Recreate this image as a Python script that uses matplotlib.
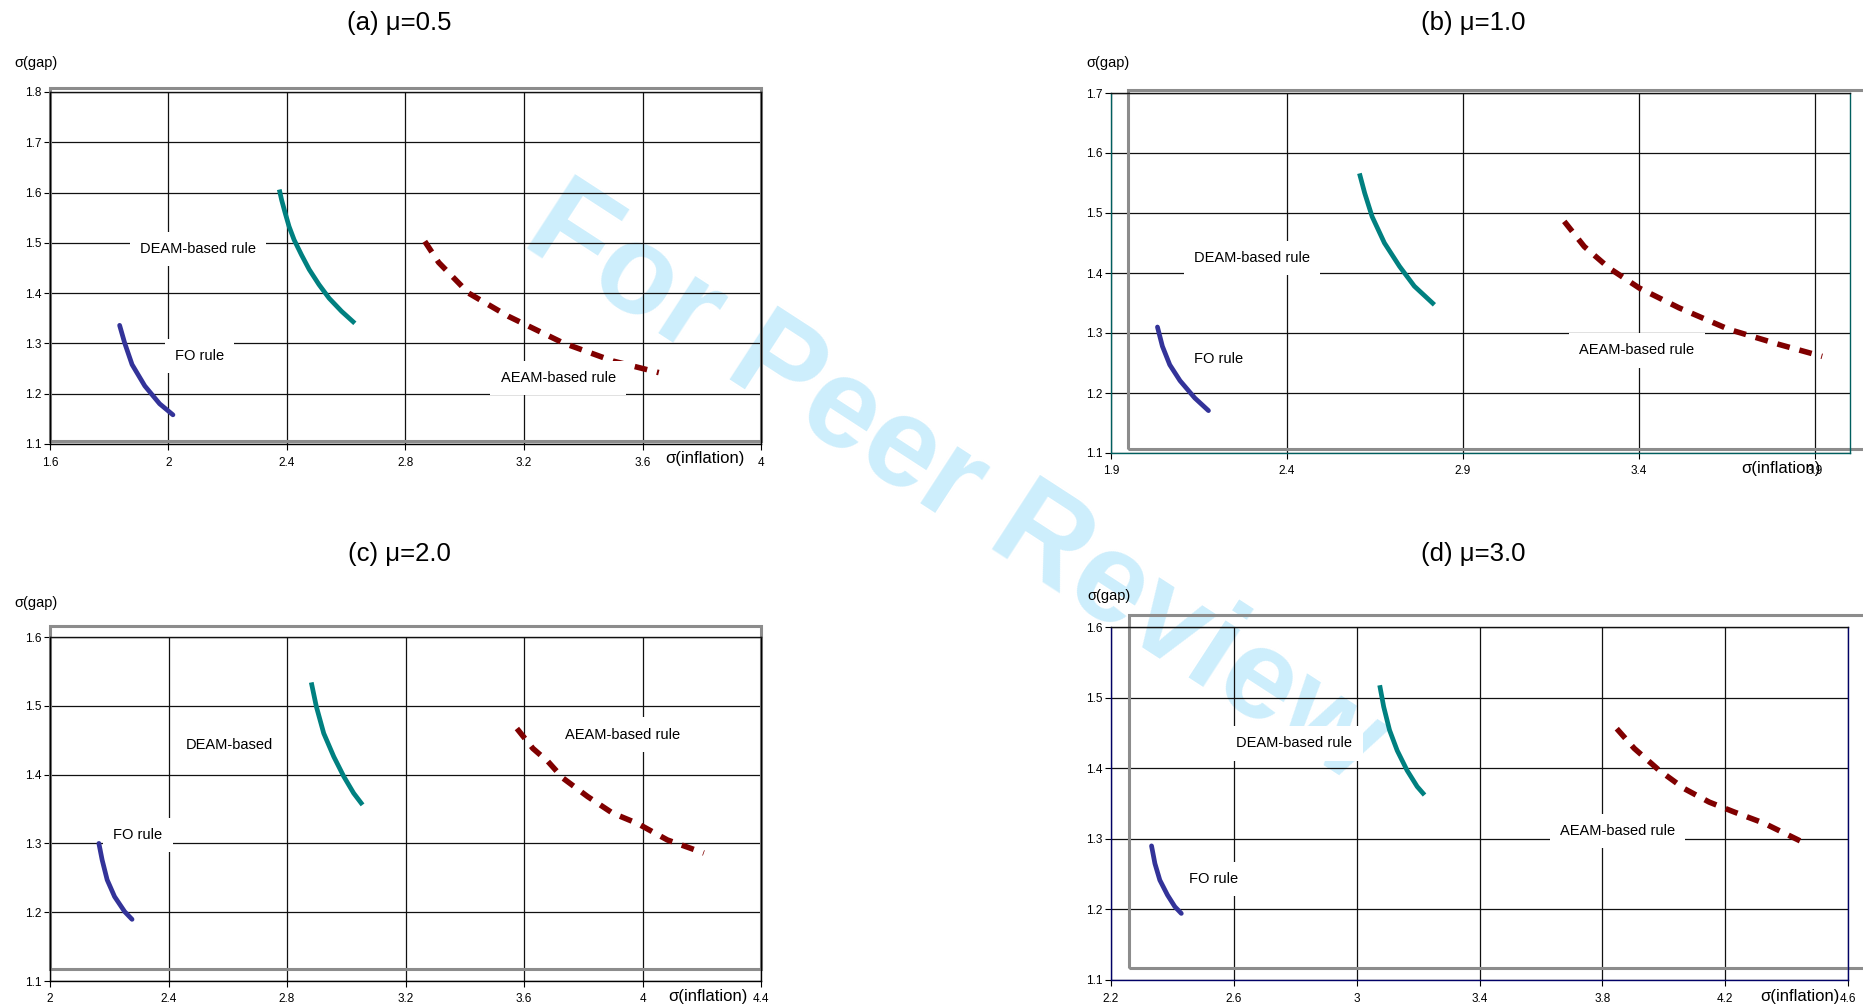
import matplotlib.pyplot as plt
from matplotlib.patches import Rectangle

W, H = 1863, 1007
plt.rcParams['font.family'] = ['Liberation Sans', 'DejaVu Sans']

# ---- data ----
# (a) mu = 0.5
fo_a_x = [1.835, 1.852, 1.877, 1.920, 1.970, 2.015]
fo_a_y = [1.336, 1.301, 1.258, 1.2155, 1.180, 1.158]
deam_a_x = [2.374, 2.382, 2.394, 2.407, 2.424, 2.449, 2.475, 2.508, 2.542, 2.584, 2.629]
deam_a_y = [1.606, 1.585, 1.559, 1.5325, 1.506, 1.476, 1.447, 1.417, 1.390, 1.364, 1.340]
aeam_a_x = [2.865, 2.912, 3.013, 3.147, 3.332, 3.500, 3.655]
aeam_a_y = [1.503, 1.461, 1.400, 1.354, 1.301, 1.265, 1.242]

# (b) mu = 1.0
fo_b_x = [2.032, 2.046, 2.067, 2.096, 2.138, 2.177]
fo_b_y = [1.310, 1.278, 1.247, 1.2206, 1.1917, 1.1706]
deam_b_x = [2.606, 2.621, 2.642, 2.677, 2.720, 2.762, 2.819]
deam_b_y = [1.566, 1.533, 1.494, 1.450, 1.411, 1.378, 1.347]
aeam_b_x = [3.188, 3.245, 3.316, 3.401, 3.514, 3.656, 3.798, 3.921]
aeam_b_y = [1.486, 1.444, 1.408, 1.375, 1.342, 1.306, 1.281, 1.261]

# (c) mu = 2.0
fo_c_x = [2.165, 2.176, 2.193, 2.218, 2.252, 2.277]
fo_c_y = [1.300, 1.276, 1.247, 1.2226, 1.2008, 1.1896]
deam_c_x = [2.882, 2.899, 2.924, 2.958, 2.992, 3.025, 3.055]
deam_c_y = [1.534, 1.499, 1.460, 1.426, 1.397, 1.373, 1.356]
aeam_c_x = [3.576, 3.630, 3.681, 3.731, 3.815, 3.899, 3.983, 4.084, 4.207]
aeam_c_y = [1.467, 1.438, 1.419, 1.395, 1.368, 1.344, 1.329, 1.305, 1.286]

# (d) mu = 3.0
fo_d_x = [2.332, 2.343, 2.359, 2.384, 2.408, 2.429]
fo_d_y = [1.290, 1.265, 1.2415, 1.2203, 1.2038, 1.1943]
deam_d_x = [3.075, 3.088, 3.107, 3.132, 3.164, 3.197, 3.221]
deam_d_y = [1.5175, 1.487, 1.454, 1.425, 1.397, 1.374, 1.362]
aeam_d_x = [3.847, 3.904, 3.985, 4.067, 4.148, 4.229, 4.327, 4.449]
aeam_d_y = [1.456, 1.428, 1.397, 1.371, 1.352, 1.338, 1.322, 1.296]

titles = ['(a) \u03bc=0.5', '(b) \u03bc=1.0', '(c) \u03bc=2.0', '(d) \u03bc=3.0']

xticks_a = [1.6, 2.0, 2.4, 2.8, 3.2, 3.6, 4.0]
xticks_b = [1.9, 2.4, 2.9, 3.4, 3.9]
xticks_c = [2.0, 2.4, 2.8, 3.2, 3.6, 4.0, 4.4]
xticks_d = [2.2, 2.6, 3.0, 3.4, 3.8, 4.2, 4.6]
yticks_a = [1.1, 1.2, 1.3, 1.4, 1.5, 1.6, 1.7, 1.8]
yticks_b = [1.1, 1.2, 1.3, 1.4, 1.5, 1.6, 1.7]
yticks_c = [1.1, 1.2, 1.3, 1.4, 1.5, 1.6]
yticks_d = [1.1, 1.2, 1.3, 1.4, 1.5, 1.6]

# label positions (x, y) in data units
labels_a = {'DEAM-based rule': (2.10, 1.488), 'FO rule': (2.105, 1.275), 'AEAM-based rule': (3.315, 1.231)}
labels_b = {'DEAM-based rule': (2.30, 1.425), 'FO rule': (2.205, 1.257), 'AEAM-based rule': (3.394, 1.271)}
labels_c = {'DEAM-based': (2.605, 1.443), 'FO rule': (2.297, 1.312), 'AEAM-based rule': (3.933, 1.458)}
labels_d = {'DEAM-based rule': (2.797, 1.435), 'FO rule': (2.533, 1.243), 'AEAM-based rule': (3.850, 1.311)}

FO_COL = '#333399'
DEAM_COL = '#008080'
AEAM_COL = '#800000'


def fmt(v):
    return '%g' % round(v, 2)


def px_text(fig, x, y, s, **kw):
    fig.text(x / W, 1 - y / H, s, **kw)


fig = plt.figure(figsize=(W / 100, H / 100), dpi=100)

panels = [
    # box in pixels (left, top, right, bottom), gray frame in data units, spine colour
    dict(box=(50, 92, 761, 444), xlim=(1.6, 4.0), xt=xticks_a, yt=yticks_a,
         fo=(fo_a_x, fo_a_y), deam=(deam_a_x, deam_a_y), aeam=(aeam_a_x, aeam_a_y),
         labels=labels_a, frame=(1.6, 1.1066, 4.0, 1.808), spine='black'),
    dict(box=(1111, 93, 1850, 453), xlim=(1.9, 4.0), xt=xticks_b, yt=yticks_b,
         fo=(fo_b_x, fo_b_y), deam=(deam_b_x, deam_b_y), aeam=(aeam_b_x, aeam_b_y),
         labels=labels_b, frame=(1.947, 1.1072, 4.2, 1.7056), spine='#005f5f'),
    dict(box=(50, 637, 761, 981), xlim=(2.0, 4.4), xt=xticks_c, yt=yticks_c,
         fo=(fo_c_x, fo_c_y), deam=(deam_c_x, deam_c_y), aeam=(aeam_c_x, aeam_c_y),
         labels=labels_c, frame=(2.0, 1.117, 4.4, 1.6165), spine='black'),
    dict(box=(1111, 627, 1848, 980), xlim=(2.2, 4.6), xt=xticks_d, yt=yticks_d,
         fo=(fo_d_x, fo_d_y), deam=(deam_d_x, deam_d_y), aeam=(aeam_d_x, aeam_d_y),
         labels=labels_d, frame=(2.257, 1.1165, 4.8, 1.6165), spine='#000066'),
]

for i, p in enumerate(panels):
    l, t, r, b = p['box']
    ax = fig.add_axes([l / W, 1 - b / H, (r - l) / W, (b - t) / H])
    ax.patch.set_alpha(0)
    yt = p['yt']
    ax.set_xlim(*p['xlim'])
    ax.set_ylim(yt[0], yt[-1])
    ax.set_xticks(p['xt'])
    ax.set_xticklabels([fmt(v) for v in p['xt']])
    ax.set_yticks(yt)
    ax.set_yticklabels([fmt(v) for v in yt])
    ax.tick_params(labelsize=8.5, direction='out', length=4, width=0.8, color='black')
    ax.tick_params(axis='x', pad=5)
    ax.tick_params(axis='y', pad=2)
    ax.grid(True, color='#111111', lw=0.9)
    ax.set_axisbelow(True)
    for s in ax.spines.values():
        s.set_color(p['spine'])
        s.set_linewidth(1.0)
    ax.spines['top'].set_color('#111111')
    if i == 2:
        ax.axhline(yt[-1], color=FO_COL, lw=1.2, zorder=1)

    x0, y0, x1, y1 = p['frame']
    ax.add_patch(Rectangle((x0, y0), x1 - x0, y1 - y0, fill=False, ec='#8c8c8c',
                           lw=2.2, clip_on=False, zorder=1.5))

    ax.plot(*p['fo'], color=FO_COL, lw=3.4, solid_capstyle='round', zorder=3)
    ax.plot(*p['deam'], color=DEAM_COL, lw=3.4, solid_capstyle='butt', zorder=3)
    ax.plot(*p['aeam'], color=AEAM_COL, lw=4, dashes=(2.3, 1.8), zorder=3)

    for txt, (lx, ly) in p['labels'].items():
        ax.text(lx, ly, txt, fontsize=10.5, ha='center', va='center', zorder=4,
                bbox=dict(boxstyle='square,pad=0.7', fc='white', ec='none'))

# titles and axis captions (pixel positions)
title_pos = [(399, 23), (1473, 23), (399, 554), (1473, 554)]
for s, (x, y) in zip(titles, title_pos):
    px_text(fig, x, y, s, fontsize=18.5, ha='center', va='center')

gap_pos = [(14, 63), (1086, 63), (14, 603), (1087, 596)]
for x, y in gap_pos:
    px_text(fig, x, y, '\u03c3(gap)', fontsize=10.5, ha='left', va='center')

infl_pos = [(705, 459), (1781, 468), (708, 997), (1800, 997)]
for x, y in infl_pos:
    px_text(fig, x, y, '\u03c3(inflation)', fontsize=12, ha='center', va='center')

# watermark behind the charts
px_text(fig, 520, 243, 'For Peer Review', fontsize=92, fontweight='bold', color='#cdeefc',
        rotation=-33, rotation_mode='anchor', ha='left', va='baseline', zorder=-1)

fig.savefig('out.png', dpi=100, facecolor='white')
